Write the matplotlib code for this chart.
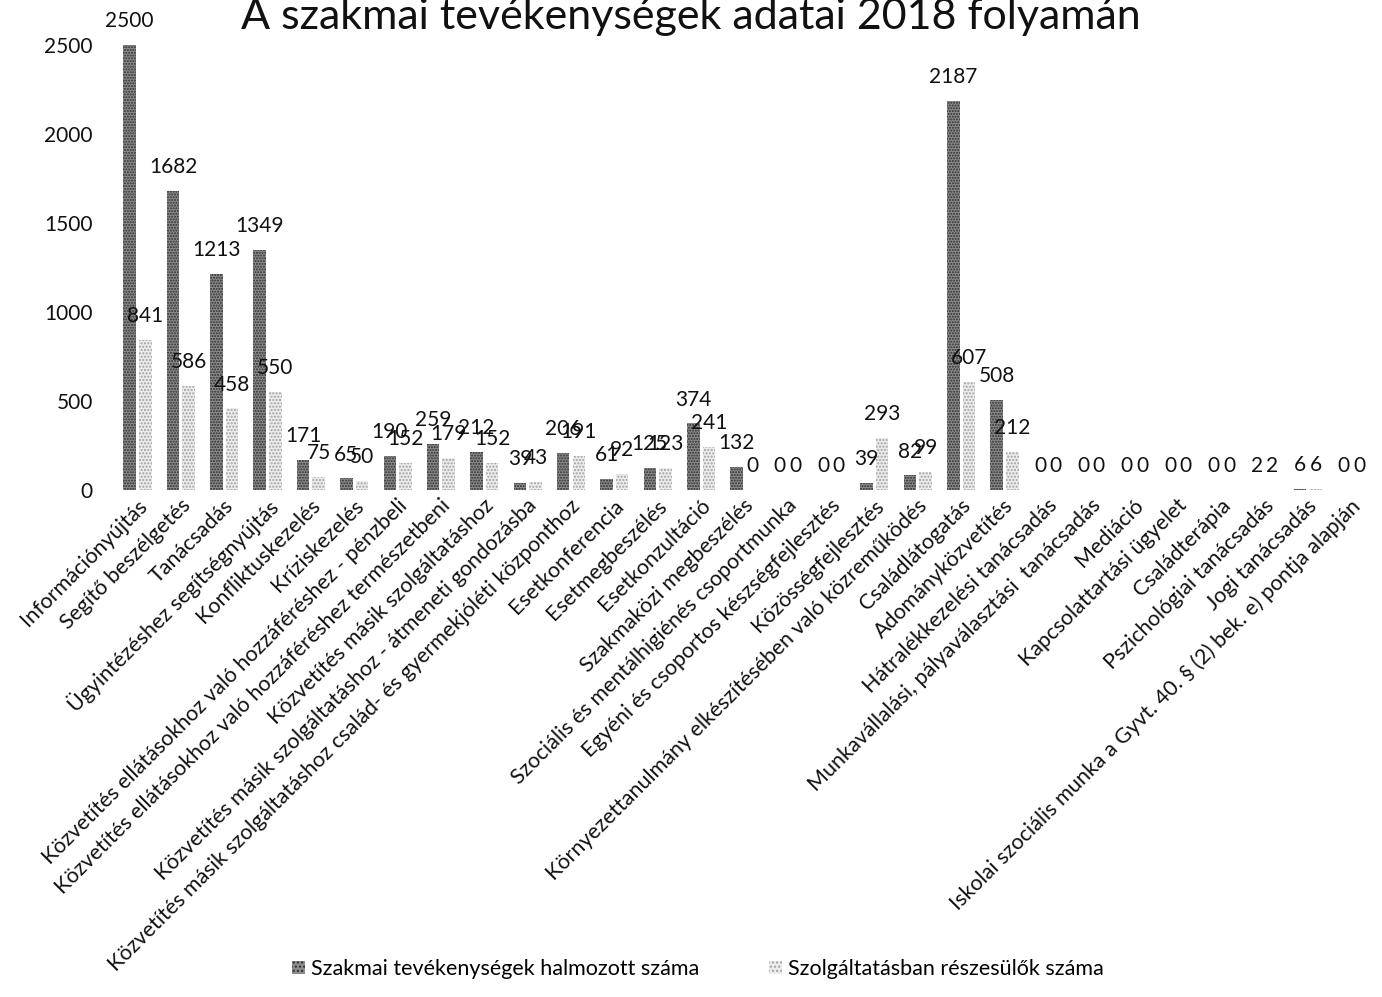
import matplotlib
matplotlib.use("Agg")
import matplotlib.pyplot as plt
import numpy as np
from matplotlib.patches import Patch

plt.rcParams['font.family'] = ['Lato', 'DejaVu Sans']
plt.rcParams['hatch.linewidth'] = 1.0

categories = [
    "Információnyújtás",
    "Segítő beszélgetés",
    "Tanácsadás",
    "Ügyintézéshez segítségnyújtás",
    "Konfliktuskezelés",
    "Kríziskezelés",
    "Közvetítés ellátásokhoz való hozzáféréshez - pénzbeli",
    "Közvetítés ellátásokhoz való hozzáféréshez természetbeni",
    "Közvetítés másik szolgáltatáshoz",
    "Közvetítés másik szolgáltatáshoz - átmeneti gondozásba",
    "Közvetítés másik szolgáltatáshoz család- és gyermekjóléti központhoz",
    "Esetkonferencia",
    "Esetmegbeszélés",
    "Esetkonzultáció",
    "Szakmaközi megbeszélés",
    "Szociális és mentálhigiénés csoportmunka",
    "Egyéni és csoportos készségfejlesztés",
    "Közösségfejlesztés",
    "Környezettanulmány elkészítésében való közreműködés",
    "Családlátogatás",
    "Adományközvetítés",
    "Hátralékkezelési tanácsadás",
    "Munkavállalási, pályaválasztási  tanácsadás",
    "Mediáció",
    "Kapcsolattartási ügyelet",
    "Családterápia",
    "Pszichológiai tanácsadás",
    "Jogi tanácsadás",
    "Iskolai szociális munka a Gyvt. 40. § (2) bek. e) pontja alapján",
]

halmozott = [2500, 1682, 1213, 1349, 171, 65, 190, 259, 212, 39, 206, 61, 125, 374,
             132, 0, 0, 39, 82, 2187, 508, 0, 0, 0, 0, 0, 2, 6, 0]
reszesulok = [841, 586, 458, 550, 75, 50, 152, 179, 152, 43, 191, 92, 123, 241,
              0, 0, 0, 293, 99, 607, 212, 0, 0, 0, 0, 0, 2, 6, 0]

series_names = ["Szakmai tevékenységek halmozott száma", "Szolgáltatásban részesülők száma"]

W, H = 1382, 997
fig = plt.figure(figsize=(W / 100, H / 100), dpi=100)
ax = fig.add_axes([115 / W, 1 - 490 / H, (1372 - 115) / W, (490 - 45) / H])

x = np.arange(len(categories))
bw = 0.29
b1 = ax.bar(x - 0.16, halmozott, width=bw, facecolor='#8c8c8c', edgecolor='#2e2e2e',
            hatch='......', linewidth=0)
b2 = ax.bar(x + 0.2, reszesulok, width=bw, facecolor='#ececec', edgecolor='#a0a0a0',
            hatch='.....', linewidth=0)

for bars, vals in ((b1, halmozott), (b2, reszesulok)):
    for rect, v in zip(bars, vals):
        ax.annotate(str(v), (rect.get_x() + rect.get_width() / 2, v),
                    xytext=(0, 10), textcoords='offset points',
                    ha='center', va='bottom', fontsize=15, color='#111111',
                    annotation_clip=False)

ax.set_xlim(-0.5, len(categories) - 0.5)
ax.set_ylim(0, 2500)
ax.set_yticks([0, 500, 1000, 1500, 2000, 2500])
ax.tick_params(axis='y', length=0, labelsize=15, pad=16, labelcolor='#111111')
ax.tick_params(axis='x', length=0, pad=4)
ax.set_xticks(x)
ax.set_xticklabels(categories, rotation=45, ha='right', va='top',
                   rotation_mode='anchor', fontsize=15.5, color='#111111')
for s in ax.spines.values():
    s.set_visible(False)

fig.text(0.5, 1 - 17 / H, "A szakmai tevékenységek adatai 2018 folyamán",
         ha='center', va='center', fontsize=31, color='#111111')

handles = [Patch(facecolor='#8c8c8c', edgecolor='#2e2e2e', hatch='....', linewidth=0),
           Patch(facecolor='#ececec', edgecolor='#a0a0a0', hatch='....', linewidth=0)]
fig.legend(handles, series_names, loc='center', bbox_to_anchor=(0.505, 1 - 969 / H),
           ncol=2, frameon=False, fontsize=15.5, handlelength=0.6, handleheight=0.6,
           handletextpad=0.3, columnspacing=3.2)

fig.savefig("out.png", dpi=100)
